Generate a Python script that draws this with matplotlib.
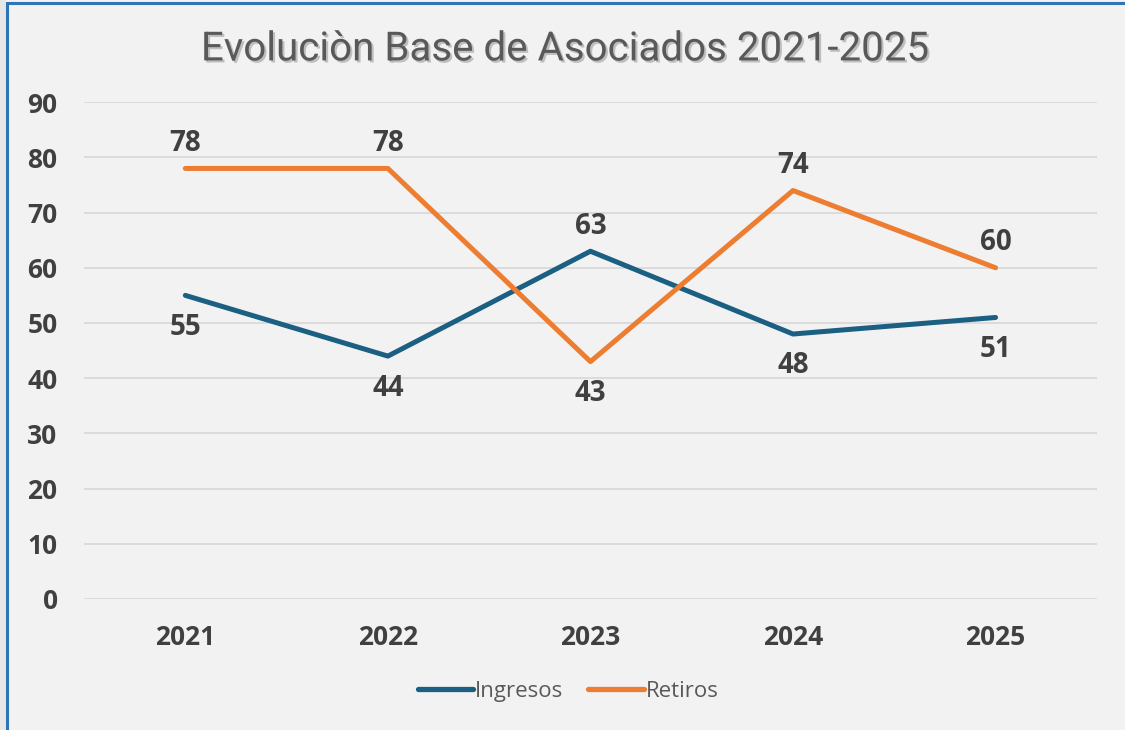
import matplotlib.pyplot as plt
import matplotlib.patheffects as pe
from matplotlib.patches import Rectangle

# datos
years = ['2021', '2022', '2023', '2024', '2025']
ingresos = [55, 44, 63, 48, 51]
retiros = [78, 78, 43, 74, 60]
# posicion de la etiqueta: 1 arriba, -1 abajo
pos_ingresos = [-1, -1, 1, -1, -1]
pos_retiros = [1, 1, -1, 1, 1]

title = 'Evoluciòn Base de Asociados 2021-2025'
c_ing = '#1B5F82'
c_ret = '#ED7D31'
bg = '#F2F2F2'
txt = '#404040'


def etiquetas(ax, xs, ys, pos):
    for x, y, p in zip(xs, ys, pos):
        off = 18 if p > 0 else -23
        ax.annotate(str(y), (x, y), xytext=(0, off), textcoords='offset points',
                    ha='center', va='center', fontsize=20, fontweight='bold',
                    color=txt, family='Open Sans')


def main():
    fig = plt.figure(figsize=(11.25, 7.3), dpi=100, facecolor=bg)
    ax = fig.add_axes([0.0747, 0.1795, 0.9003, 0.6805])
    ax.set_facecolor(bg)

    x = list(range(len(years)))
    ax.plot(x, ingresos, color=c_ing, lw=3.6, solid_capstyle='round', label='Ingresos', zorder=3)
    ax.plot(x, retiros, color=c_ret, lw=3.6, solid_capstyle='round', label='Retiros', zorder=4)

    etiquetas(ax, x, ingresos, pos_ingresos)
    etiquetas(ax, x, retiros, pos_retiros)

    ax.set_xlim(-0.5, len(years) - 0.5)
    ax.set_ylim(0, 90)
    ax.set_yticks(range(0, 91, 10))
    ax.set_xticks(x)
    ax.set_xticklabels(years)
    ax.yaxis.grid(True, color='#D9D9D9', lw=1.3)
    ax.set_axisbelow(True)
    for s in ax.spines.values():
        s.set_visible(False)
    ax.tick_params(axis='both', length=0, labelsize=19, labelcolor=txt)
    ax.tick_params(axis='y', pad=19)
    ax.tick_params(axis='x', pad=18)
    for lab in ax.get_xticklabels() + ax.get_yticklabels():
        lab.set_fontweight('bold')
        lab.set_family('Open Sans')

    fig.text(0.502, 0.933, title, ha='center', va='center', fontsize=29,
             color='#595959', family='Roboto', fontweight='normal',
             path_effects=[pe.SimplePatchShadow(offset=(1.5, -1.5), shadow_rgbFace='#A8A8A8', alpha=0.7),
                           pe.Normal()])

    leg = fig.legend(loc='center', bbox_to_anchor=(0.505, 0.053), ncol=2, frameon=False,
                     prop={'family': 'Open Sans', 'size': 16}, handlelength=2.5,
                     handletextpad=0.1, columnspacing=1.1)
    for t in leg.get_texts():
        t.set_color('#595959')
    for h in leg.get_lines():
        h.set_linewidth(3.8)
        h.set_solid_capstyle('round')

    # borde azul del cuadro
    fig.patches.append(Rectangle((0, 0), 6 / 1125, 1, transform=fig.transFigure,
                                 facecolor='#E6E6E6', edgecolor='none', zorder=0))
    fig.patches.append(Rectangle((6.5 / 1125, -0.05), 1.2, 1.05 - 3.5 / 730,
                                 transform=fig.transFigure, facecolor='none',
                                 edgecolor='#2E75B6', lw=2.2, zorder=10))

    fig.savefig('out.png', dpi=100, facecolor=bg)


if __name__ == '__main__':
    main()
